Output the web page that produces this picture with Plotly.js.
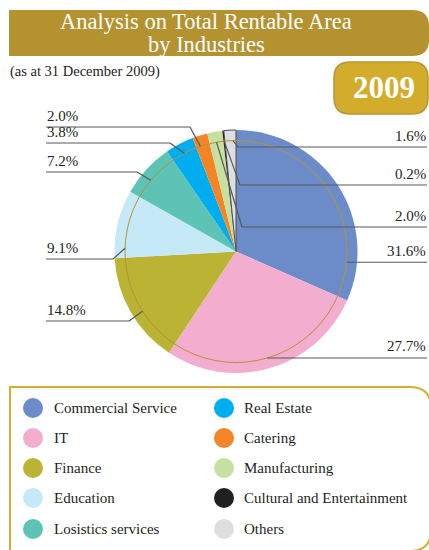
<!DOCTYPE html>
<html>
<head>
<meta charset="utf-8">
<script src="https://cdn.plot.ly/plotly-3.0.1.min.js"></script>
<style>
  body { margin: 0; background: #fff; }
  #chart { width: 429px; height: 550px; }
</style>
</head>
<body>
<div id="chart"></div>
<script>
// data
var industries = ['Commercial Service', 'IT', 'Finance', 'Education', 'Losistics services',
                  'Real Estate', 'Catering', 'Manufacturing', 'Cultural and Entertainment', 'Others'];
var shares = [31.6, 27.7, 14.8, 9.1, 7.2, 3.8, 2.0, 2.0, 0.2, 1.6];
var colours = ['#6b8cc8', '#f3aecf', '#bab333', '#c6e9f8', '#5cc3b5',
               '#00aeef', '#f58426', '#c6e0a0', '#231f20', '#dddee0'];

// label layout (pixels)
var labelSide = ['right', 'right', 'left', 'left', 'left', 'left', 'left', 'right', 'right', 'right'];
var labelLineY = [262, 357, 321, 259, 172, 143, 127, 227, 185, 147];
var elbowX = [null, null, 129, 113, 137, 170, 190, 242, 240, 238];
var anchorFrac = [0.84, 0.5, 0.45, 0.15, 0.4, 0.5, 0.3, 0.5, 0.5, 0.72];

var W = 429, H = 550;
var cx = 236, cy = 251.5, R = 121.5, ringR = 111;
function px(x) { return x / W; }
function py(y) { return 1 - y / H; }

var serif = '"Liberation Serif", "DejaVu Serif", serif';
var lineCol = '#58595b';

var pie = {
  type: 'pie',
  labels: industries,
  values: shares,
  sort: false,
  direction: 'clockwise',
  rotation: 0,
  marker: {
    colors: colours,
    line: { color: '#4d4d4f', width: [0, 0, 0, 0, 0, 0, 0, 0, 0, 1] }
  },
  textinfo: 'none',
  hoverinfo: 'skip',
  showlegend: false,
  domain: { x: [px(cx - R), px(cx + R)], y: [py(cy + R), py(cy - R)] }
};

var shapes = [];
var annotations = [];

function note(x, y, text, size, opts) {
  var a = { xref: 'paper', yref: 'paper', x: px(x), y: py(y), text: text, showarrow: false,
    xanchor: 'center', yanchor: 'middle',
    font: { family: serif, size: size, color: '#231f20' } };
  for (var k in opts) a[k] = opts[k];
  annotations.push(a);
}

// title banner
shapes.push({
  type: 'path', xref: 'paper', yref: 'paper', layer: 'below',
  path: 'M ' + px(9) + ' ' + py(10) + ' L ' + px(412) + ' ' + py(10) +
        ' Q ' + px(429) + ' ' + py(10) + ' ' + px(429) + ' ' + py(26) +
        ' L ' + px(429) + ' ' + py(40) +
        ' Q ' + px(429) + ' ' + py(56) + ' ' + px(412) + ' ' + py(56) +
        ' L ' + px(9) + ' ' + py(56) + ' Z',
  fillcolor: '#b59230', line: { width: 0 }
});
note(206, 21, 'Analysis on Total Rentable Area', 22.5, { font: { family: serif, size: 22.5, color: '#ffffff' } });
note(206, 45, 'by Industries', 22.5, { font: { family: serif, size: 22.5, color: '#ffffff' } });
note(8, 72, '(as at 31 December 2009)', 14.5, { xanchor: 'left' });

// 2009 badge
function roundRect(x0, y0, x1, y1, r) {
  return 'M ' + px(x0 + r) + ' ' + py(y0) + ' L ' + px(x1 - r) + ' ' + py(y0) +
    ' Q ' + px(x1) + ' ' + py(y0) + ' ' + px(x1) + ' ' + py(y0 + r) +
    ' L ' + px(x1) + ' ' + py(y1 - r) +
    ' Q ' + px(x1) + ' ' + py(y1) + ' ' + px(x1 - r) + ' ' + py(y1) +
    ' L ' + px(x0 + r) + ' ' + py(y1) +
    ' Q ' + px(x0) + ' ' + py(y1) + ' ' + px(x0) + ' ' + py(y1 - r) +
    ' L ' + px(x0) + ' ' + py(y0 + r) +
    ' Q ' + px(x0) + ' ' + py(y0) + ' ' + px(x0 + r) + ' ' + py(y0) + ' Z';
}
shapes.push({ type: 'path', xref: 'paper', yref: 'paper', layer: 'below',
  path: roundRect(334, 62, 428, 114, 16), fillcolor: '#d3ac2b', line: { color: '#b8973a', width: 1.5 } });
note(384, 87, '<b>2009</b>', 31, { font: { family: serif, size: 31, color: '#ffffff' } });

// inner ring
shapes.push({ type: 'circle', xref: 'paper', yref: 'paper', layer: 'above',
  x0: px(cx - ringR), x1: px(cx + ringR), y0: py(cy + ringR), y1: py(cy - ringR),
  line: { color: '#b8913a', width: 1 } });

// leader lines and percentage labels
var total = shares.reduce(function (a, b) { return a + b; }, 0);
var cum = 0;
shares.forEach(function (v, i) {
  var a0 = cum / total * 360;
  cum += v;
  var a1 = cum / total * 360;
  var ang = (a0 + (a1 - a0) * anchorFrac[i]) * Math.PI / 180;
  var ax = cx + ringR * Math.sin(ang);
  var ay = cy - ringR * Math.cos(ang);
  var ly = labelLineY[i];
  var right = labelSide[i] === 'right';
  var line = { color: lineCol, width: 1.2 };
  if (elbowX[i] === null) {
    shapes.push({ type: 'line', xref: 'paper', yref: 'paper', layer: 'above',
      x0: px(ax), y0: py(ay), x1: px(right ? 427 : 46), y1: py(ay), line: line });
  } else {
    shapes.push({ type: 'line', xref: 'paper', yref: 'paper', layer: 'above',
      x0: px(ax), y0: py(ay), x1: px(elbowX[i]), y1: py(ly), line: line });
    shapes.push({ type: 'line', xref: 'paper', yref: 'paper', layer: 'above',
      x0: px(elbowX[i]), y0: py(ly), x1: px(right ? 427 : 46), y1: py(ly), line: line });
  }
  note(right ? 428 : 45, ly - 1, v.toFixed(1) + '%', 15,
    { xanchor: right ? 'right' : 'left', yanchor: 'bottom' });
});

// legend box
shapes.push({ type: 'path', xref: 'paper', yref: 'paper', layer: 'below',
  path: 'M ' + px(10) + ' ' + py(556) + ' L ' + px(10) + ' ' + py(387) +
        ' L ' + px(410) + ' ' + py(387) +
        ' Q ' + px(431) + ' ' + py(387) + ' ' + px(431) + ' ' + py(408) +
        ' L ' + px(431) + ' ' + py(530) +
        ' Q ' + px(431) + ' ' + py(551) + ' ' + px(410) + ' ' + py(551),
  line: { color: '#d4ae2e', width: 2 } });

// legend entries
var legColX = [33, 224];
var legTextX = [52, 242];
var legRowY = [408, 438, 468, 498, 529];
industries.forEach(function (name, i) {
  var col = Math.floor(i / 5), row = i % 5;
  var x = legColX[col], y = legRowY[row];
  shapes.push({ type: 'circle', xref: 'paper', yref: 'paper', layer: 'below',
    x0: px(x - 10), x1: px(x + 10), y0: py(y + 10), y1: py(y - 10),
    fillcolor: colours[i], line: { width: 0 } });
  note(legTextX[col], y, name, 15, { xanchor: 'left' });
});

var layout = {
  width: W, height: H,
  margin: { l: 0, r: 0, t: 0, b: 0 },
  paper_bgcolor: '#ffffff',
  showlegend: false,
  shapes: shapes,
  annotations: annotations
};

Plotly.newPlot('chart', [pie], layout, { staticPlot: true });
</script>
</body>
</html>
